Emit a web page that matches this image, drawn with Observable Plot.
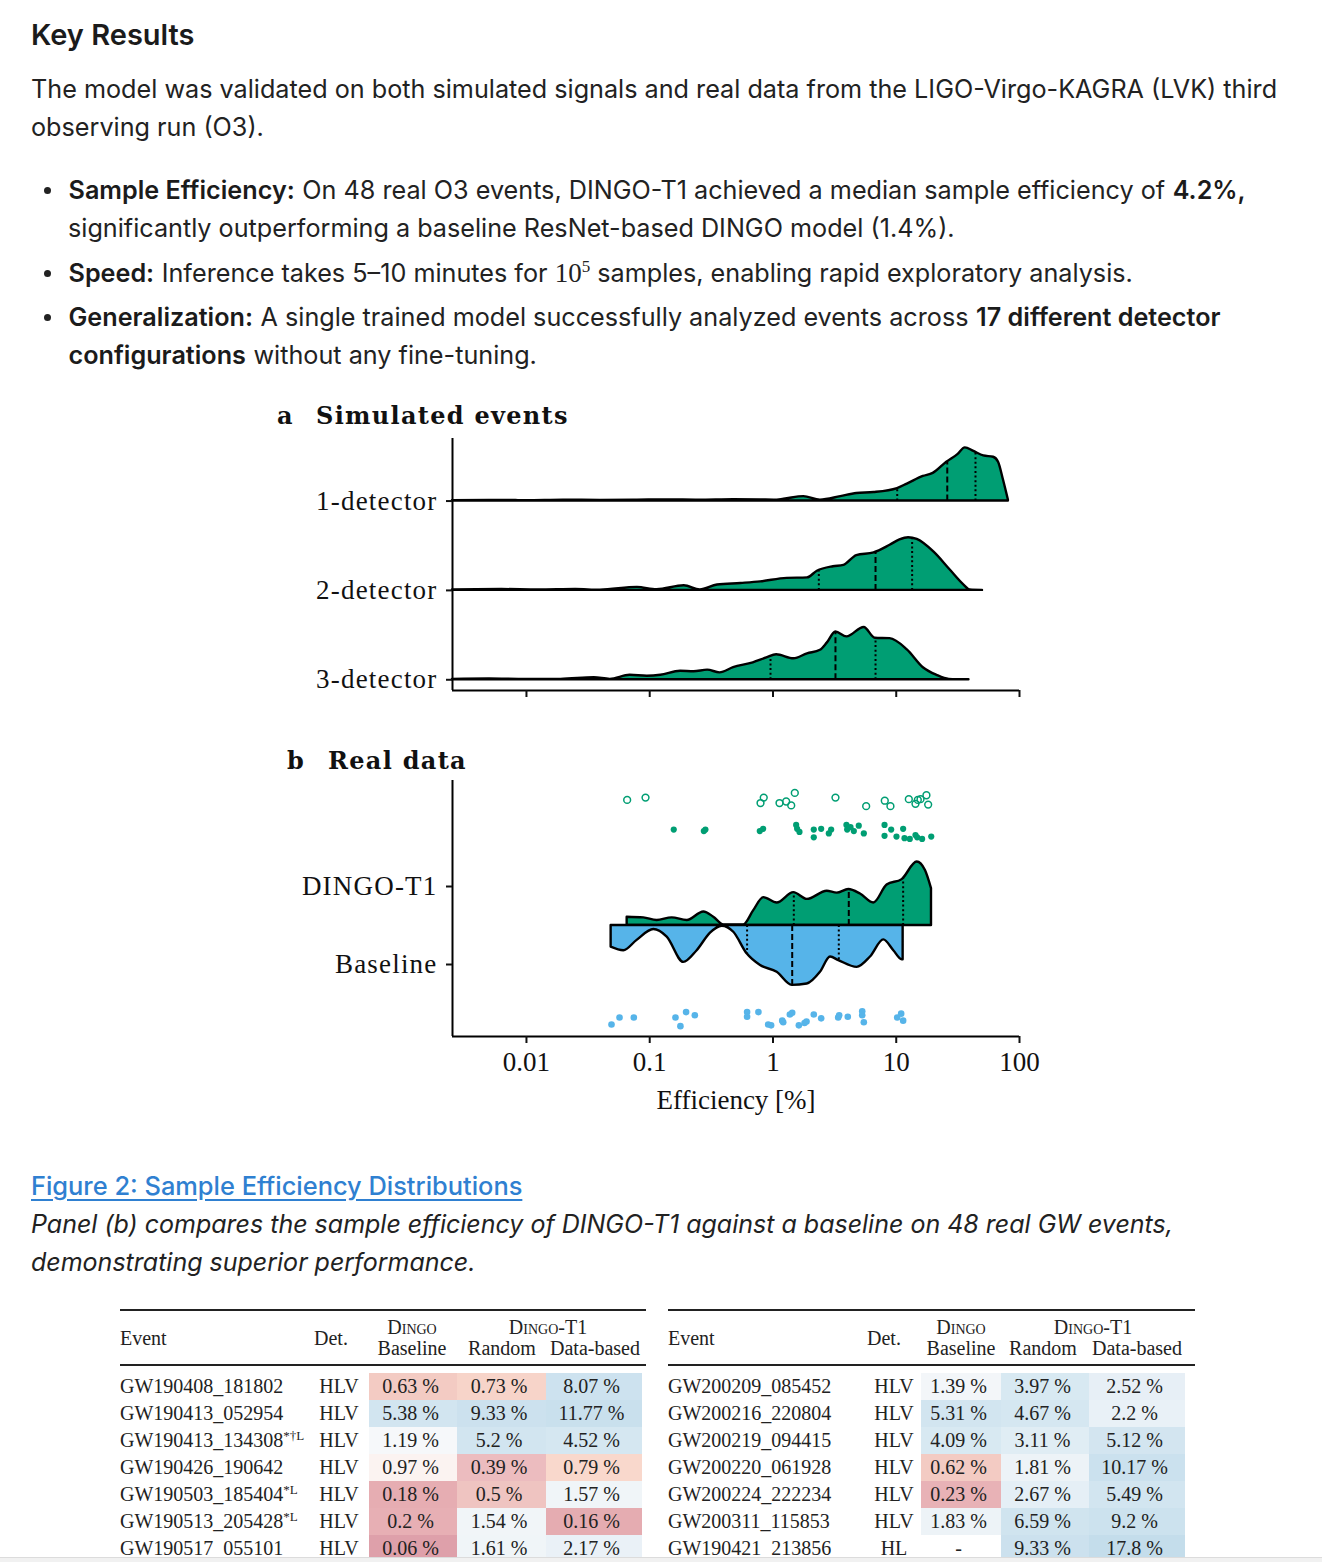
<!DOCTYPE html>
<html>
<head>
<meta charset="utf-8">
<script src="https://cdn.jsdelivr.net/npm/d3@7"></script>
<script src="https://cdn.jsdelivr.net/npm/@observablehq/plot@0.6"></script>
<style>
html, body { margin: 0; padding: 0; background: #fff; }
body { width: 1322px; height: 1562px; position: relative; overflow: hidden; font-family: Inter, "Noto Sans", sans-serif; color: #222; }
.abs { position: absolute; }
.h2 { left: 31px; top: 17px; font-size: 29px; font-weight: 600; line-height: 36px; color: #1b1b1b; }
.txt { font-size: 25.2px; line-height: 38px; }
.item { position: absolute; left: 68px; width: 1228px; font-size: 25.2px; line-height: 38px; }
.item::before { content: ""; position: absolute; left: -24px; top: 15.5px; width: 7px; height: 7px; border-radius: 50%; background: #222; }
b { font-weight: 600; color: #1b1b1b; margin: 0 0.5px; }
.math { font-family: "Liberation Serif", serif; font-size: 27px; }
.math sup { font-size: 17px; vertical-align: 10px; line-height: 0; }
.ptitle { font-family: "DejaVu Serif", serif; font-weight: bold; font-size: 24px; line-height: 32px; color: #111; letter-spacing: 1.3px; }
.link { left: 31px; top: 1167px; font-size: 25.4px; line-height: 38px; font-weight: 500; color: #2f80d1; text-decoration: underline; text-underline-offset: 4px; }
.cap { left: 31px; top: 1205px; width: 1200px; font-size: 25px; line-height: 38px; font-style: italic; color: #222; }
.tb { font-family: "Liberation Serif", serif; font-size: 20px; color: #222; white-space: nowrap; line-height: 24px; }
.tb sup { font-size: 13px; line-height: 0; vertical-align: 7px; }
.sc { font-variant: small-caps; }
#panelA g[aria-label="y-axis tick label"] text, #panelB g[aria-label="y-axis tick label"] text { letter-spacing: 1.2px; }
</style>
</head>
<body>
<div class="abs h2">Key Results</div>
<div class="abs txt" style="left:31px; top:70px; width:1268px;">The model was validated on both simulated signals and real data from the LIGO-Virgo-KAGRA (LVK) third observing run (O3).</div>
<div class="item" style="top:171px;"><b>Sample Efficiency:</b> On 48 real O3 events, DINGO-T1 achieved a median sample efficiency of <b>4.2%,</b> significantly outperforming a baseline ResNet-based DINGO model (1.4%).</div>
<div class="item" style="top:254px;"><b>Speed:</b> Inference takes 5–10 minutes for <span class="math">10<sup>5</sup></span> samples, enabling rapid exploratory analysis.</div>
<div class="item" style="top:298px;"><b>Generalization:</b> A single trained model successfully analyzed events across <b>17 different detector</b> <b>configurations</b> without any fine-tuning.</div>

<div class="abs ptitle" style="left:277px; top:400px;">a</div>
<div class="abs ptitle" style="left:316px; top:400px;">Simulated events</div>
<div class="abs" id="panelA" style="left:270px; top:432px; width:790px;"></div>

<div class="abs ptitle" style="left:287px; top:745px;">b</div>
<div class="abs ptitle" style="left:328px; top:745px;">Real data</div>
<div class="abs" id="panelB" style="left:270px; top:775px; width:790px;"></div>

<div class="abs link">Figure 2: Sample Efficiency Distributions</div>
<div class="abs cap">Panel (b) compares the sample efficiency of DINGO-T1 against a baseline on 48 real GW events, demonstrating superior performance.</div>

<div id="tables"></div>
<div class="abs" style="left:0; top:1557px; width:1322px; height:5px; background:#f1f1f1; border-top:1px solid #dcdcdc; z-index:5;"></div>

<script>
// ---------- Panel a: simulated events (log10 efficiency [%], density) ----------
const detectors = ["1-detector", "2-detector", "3-detector"];
const ridge1Det = [[-2.6,0.01],[-2.3,0.015],[-2.0,0.01],[-1.7,0.02],[-1.4,0.015],[-1.1,0.02],[-0.86,0.027],[-0.6,0.02],[-0.32,0.03],[-0.1,0.025],[0.01,0.02],[0.09,0.04],[0.25,0.10],[0.385,0.02],[0.55,0.10],[0.68,0.17],[0.82,0.19],[1.01,0.28],[1.09,0.38],[1.22,0.55],[1.30,0.62],[1.41,0.87],[1.50,1.04],[1.56,1.19],[1.63,1.11],[1.71,1.01],[1.79,0.98],[1.83,0.87],[1.87,0.47],[1.91,0.02]];
const ridge2Det = [[-2.6,0.01],[-2.2,0.02],[-1.9,0.01],[-1.6,0.02],[-1.4,0.005],[-1.10,0.067],[-0.94,0.015],[-0.72,0.105],[-0.59,0.01],[-0.45,0.12],[-0.26,0.155],[-0.10,0.19],[0.115,0.27],[0.28,0.28],[0.36,0.43],[0.49,0.53],[0.575,0.56],[0.68,0.78],[0.82,0.84],[0.95,1.01],[1.03,1.13],[1.10,1.18],[1.17,1.14],[1.305,0.86],[1.44,0.45],[1.55,0.12],[1.60,0.01],[1.70,0.0]];
const ridge3Det = [[-2.6,0.01],[-2.3,0.02],[-2.0,0.01],[-1.72,0.01],[-1.45,0.045],[-1.32,0.01],[-1.16,0.10],[-1.02,0.08],[-0.91,0.10],[-0.75,0.19],[-0.64,0.18],[-0.53,0.215],[-0.43,0.155],[-0.32,0.27],[-0.16,0.38],[-0.05,0.49],[0.03,0.56],[0.17,0.47],[0.28,0.58],[0.385,0.66],[0.44,0.82],[0.51,1.07],[0.60,0.96],[0.74,1.17],[0.83,0.93],[0.95,0.92],[1.09,0.67],[1.22,0.27],[1.33,0.10],[1.43,0.01],[1.59,0.0]];
const quart1Det = [1.008, 1.414, 1.643];
const quart2Det = [0.372, 0.832, 1.129];
const quart3Det = [-0.020, 0.507, 0.832];

// ---------- Panel b: real data ----------
const violinT1 = [[-1.183,0.185],[-1.048,0.17],[-0.94,0.11],[-0.818,0.17],[-0.696,0.11],[-0.561,0.30],[-0.48,0.185],[-0.399,0.015],[-0.237,0.015],[-0.156,0.33],[-0.075,0.62],[0.034,0.50],[0.169,0.73],[0.278,0.58],[0.44,0.76],[0.521,0.72],[0.615,0.80],[0.71,0.70],[0.818,0.50],[0.926,0.90],[1.048,1.02],[1.17,1.41],[1.237,1.22],[1.286,0.82]];
const violinBase = [[-1.313,0.48],[-1.21,0.56],[-1.102,0.33],[-0.967,0.09],[-0.858,0.26],[-0.724,0.82],[-0.615,0.56],[-0.507,0.17],[-0.412,0.015],[-0.318,0.15],[-0.21,0.63],[-0.101,0.89],[0.034,1.04],[0.156,1.33],[0.278,1.30],[0.385,1.04],[0.467,0.70],[0.534,0.78],[0.683,0.93],[0.791,0.70],[0.899,0.32],[0.98,0.56],[1.048,0.76],[1.056,0.76]];
const quartT1 = [0.169, 0.615, 1.056];
const quartBase = [-0.210, 0.156, 0.534];

const t1OpenLog = [-1.183,-1.034,-0.101,-0.075,0.053,0.107,0.148,0.177,0.507,0.756,0.907,0.953,1.102,1.156,1.175,1.197,1.245,1.259];
const t1OpenRow = [2.11,2.14,2.07,2.14,2.07,2.09,2.04,2.20,2.14,2.03,2.10,2.03,2.12,2.06,2.11,2.12,2.17,2.05];
const t1FilledLog = [-0.805,-0.561,-0.548,-0.107,-0.080,0.188,0.196,0.215,0.331,0.331,0.391,0.453,0.472,0.596,0.602,0.629,0.656,0.696,0.737,0.905,0.905,0.959,1.002,1.056,1.067,1.110,1.156,1.170,1.210,1.284];
const t1FilledRow = [1.73,1.71,1.73,1.71,1.74,1.79,1.74,1.70,1.73,1.63,1.74,1.68,1.73,1.79,1.73,1.76,1.71,1.78,1.68,1.79,1.65,1.73,1.64,1.74,1.62,1.61,1.66,1.63,1.61,1.64];
const baseLog = [-1.310,-1.245,-1.129,-0.791,-0.751,-0.705,-0.634,-0.210,-0.210,-0.118,-0.039,-0.015,0.075,0.083,0.137,0.156,0.210,0.256,0.272,0.331,0.391,0.529,0.537,0.607,0.724,0.724,0.737,1.008,1.040,1.056];
const baseRow = [-0.77,-0.68,-0.68,-0.68,-0.79,-0.61,-0.65,-0.61,-0.67,-0.61,-0.77,-0.78,-0.72,-0.74,-0.64,-0.62,-0.78,-0.75,-0.73,-0.64,-0.69,-0.68,-0.65,-0.67,-0.60,-0.65,-0.74,-0.68,-0.63,-0.72];
const xTicks = [0.01, 0.1, 1, 10, 100];
const methods = ["DINGO-T1", "Baseline"];

// ---------- Table ----------
const leftEvents = ["GW190408_181802","GW190413_052954","GW190413_134308","GW190426_190642","GW190503_185404","GW190513_205428","GW190517_055101"];
const leftNotes = ["","","*†L","","*L","*L",""];
const leftDet = ["HLV","HLV","HLV","HLV","HLV","HLV","HLV"];
const leftBaseline = [0.63, 5.38, 1.19, 0.97, 0.18, 0.2, 0.06];
const leftRandom = [0.73, 9.33, 5.2, 0.39, 0.5, 1.54, 1.61];
const leftData = [8.07, 11.77, 4.52, 0.79, 1.57, 0.16, 2.17];
const rightEvents = ["GW200209_085452","GW200216_220804","GW200219_094415","GW200220_061928","GW200224_222234","GW200311_115853","GW190421_213856"];
const rightNotes = ["","","","","","",""];
const rightDet = ["HLV","HLV","HLV","HLV","HLV","HLV","HL"];
const rightBaseline = [1.39, 5.31, 4.09, 0.62, 0.23, 1.83, null];
const rightRandom = [3.97, 4.67, 3.11, 1.81, 2.67, 6.59, 9.33];
const rightData = [2.52, 2.2, 5.12, 10.17, 5.49, 9.2, 17.8];

// ---------- styling ----------
const GREEN = "#009e73", BLUE = "#56b4e9";
const X0 = 10 ** -2.6;
const serif = "'Liberation Serif', 'DejaVu Serif', serif";
const DASH = "6,3", DOT = "2,2.6";

function interp(arr, l) {
  for (let i = 1; i < arr.length; i++) {
    if (l <= arr[i][0]) {
      const [a0, d0] = arr[i - 1], [a1, d1] = arr[i];
      return d0 + (d1 - d0) * (l - a0) / (a1 - a0);
    }
  }
  return arr[arr.length - 1][1];
}
const toRows = arr => arr.map(([l, d]) => ({eff: 10 ** l, d}));
function quartRules(quart, arr, base, sign, scale) {
  const q = quart.map((l, k) => ({eff: 10 ** l, h: interp(arr, l), k}));
  const opts = dash => ({x: "eff", y1: base, y2: r => base + sign * r.h * scale, stroke: "#000", strokeWidth: 2, strokeDasharray: dash});
  return [
    Plot.ruleX(q.filter(r => r.k !== 1), opts(DOT)),
    Plot.ruleX(q.filter(r => r.k === 1), opts(DASH))
  ];
}

// Panel a
const ridgeData = [ridge1Det, ridge2Det, ridge3Det];
const ridgeQuart = [quart1Det, quart2Det, quart3Det];
const RS = 0.5; // density -> row units
const marksA = [];
ridgeData.forEach((arr, i) => {
  const base = 2 - i;
  marksA.push(Plot.areaY(toRows(arr), {x: "eff", y1: base, y2: r => base + r.d * RS, fill: GREEN, stroke: "#000", strokeWidth: 2.4, strokeLinejoin: "round", curve: "monotone-x"}));
  marksA.push(...quartRules(ridgeQuart[i], arr, base, 1, RS));
});
marksA.push(
  Plot.ruleX([X0], {stroke: "#000", strokeWidth: 2}),
  Plot.ruleY([-0.12], {stroke: "#000", strokeWidth: 2}),
  Plot.axisX({ticks: xTicks, tickFormat: () => "", tickSize: 7, strokeWidth: 2, label: null}),
  Plot.axisY({ticks: [2, 1, 0], tickFormat: t => detectors[2 - t], tickSize: 6, tickPadding: 9, strokeWidth: 2, label: null, fontSize: 27})
);
const panelA = Plot.plot({
  width: 790, height: 273, marginLeft: 182, marginRight: 41, marginTop: 6, marginBottom: 15,
  style: {fontFamily: serif, fontSize: "27px", color: "#111", background: "transparent", overflow: "visible"},
  x: {type: "log", domain: [X0, 100]},
  y: {domain: [-0.12, 2.7]},
  marks: marksA
});
document.getElementById("panelA").appendChild(panelA);

// Panel b
const VS = 45 / 78;
const openPts = t1OpenLog.map((l, i) => ({eff: 10 ** l, row: t1OpenRow[i]}));
const filledPts = t1FilledLog.map((l, i) => ({eff: 10 ** l, row: t1FilledRow[i]}));
const basePts = baseLog.map((l, i) => ({eff: 10 ** l, row: baseRow[i]}));
const panelB = Plot.plot({
  width: 790, height: 343, marginLeft: 182, marginRight: 41, marginTop: 5, marginBottom: 82,
  style: {fontFamily: serif, fontSize: "27px", color: "#111", background: "transparent", overflow: "visible"},
  x: {type: "log", domain: [X0, 100]},
  y: {domain: [-0.923, 2.359]},
  marks: [
    Plot.areaY(toRows(violinT1), {x: "eff", y1: 0.5, y2: r => 0.5 + r.d * VS, fill: GREEN, stroke: "#000", strokeWidth: 2.4, strokeLinejoin: "round", curve: "monotone-x"}),
    Plot.areaY(toRows(violinBase), {x: "eff", y1: 0.5, y2: r => 0.5 - r.d * VS, fill: BLUE, stroke: "#000", strokeWidth: 2.4, strokeLinejoin: "round", curve: "monotone-x"}),
    ...quartRules(quartT1, violinT1, 0.5, 1, VS),
    ...quartRules(quartBase, violinBase, 0.5, -1, VS),
    Plot.dot(openPts, {x: "eff", y: "row", r: 3.4, stroke: GREEN, strokeWidth: 1.5, fill: "none"}),
    Plot.dot(filledPts, {x: "eff", y: "row", r: 3.1, fill: GREEN, stroke: "none"}),
    Plot.dot(basePts, {x: "eff", y: "row", r: 3.3, fill: BLUE, stroke: "none"}),
    Plot.ruleX([X0], {stroke: "#000", strokeWidth: 2}),
    Plot.ruleY([-0.923], {stroke: "#000", strokeWidth: 2}),
    Plot.axisX({ticks: xTicks, tickFormat: d => String(d), tickSize: 7, tickPadding: 8, strokeWidth: 2, fontSize: 27, label: "Efficiency [%]", labelAnchor: "center", labelOffset: 72, labelArrow: false}),
    Plot.axisY({ticks: [1, 0], tickFormat: t => methods[1 - t], tickSize: 6, tickPadding: 9, strokeWidth: 2, label: null, fontSize: 27})
  ]
});
document.getElementById("panelB").appendChild(panelB);

// ---------- Table (cell colours from a Plot colour scale) ----------
const cellColor = Plot.scale({color: {
  type: "log",
  domain: [0.06, 0.18, 0.4, 0.63, 0.8, 0.97, 1.2, 1.6, 2.6, 4, 5.3, 10, 18],
  range: ["#dea0aa", "#e6adb2", "#ecbdbf", "#f3cbc3", "#f9d9cc", "#fbf3f1", "#f6f8fa", "#f0f5f8", "#e6eff6", "#d8e9f2", "#d2e5f0", "#cbe1ee", "#c4ddeb"]
}});

const host = document.getElementById("tables");
function el(html, css) {
  const d = document.createElement("div");
  d.className = "abs tb";
  d.innerHTML = html;
  Object.assign(d.style, css);
  host.appendChild(d);
  return d;
}
function centerText(html, cx, cy, extra = {}) {
  return el(html, Object.assign({left: (cx - 100) + "px", width: "200px", textAlign: "center", top: (cy - 12) + "px"}, extra));
}
function buildTable(t) {
  el("", {left: t.x0 + "px", top: "1309px", width: t.w + "px", height: "1.6px", background: "#222"});
  el("", {left: t.x0 + "px", top: "1364px", width: t.w + "px", height: "1.6px", background: "#222"});
  el("Event", {left: t.x0 + "px", top: (1338 - 12) + "px"});
  centerText("Det.", t.detHead, 1338);
  centerText('<span class="sc">Dingo</span>', t.h1, 1327);
  centerText("Baseline", t.h1, 1348);
  centerText('<span class="sc">Dingo</span>-T1', t.h2, 1327);
  centerText("Random", t.h3, 1348);
  centerText("Data-based", t.h4, 1348);
  t.events.forEach((ev, i) => {
    const cy = 1386 + 27 * i;
    el(ev + (t.notes[i] ? "<sup>" + t.notes[i] + "</sup>" : ""), {left: t.x0 + "px", top: (cy - 12) + "px"});
    centerText(t.det[i], t.detCenter, cy);
    [t.baseline, t.random, t.data].forEach((col, c) => {
      const v = col[i];
      const [cx0, cw] = t.cells[c];
      el("", {left: cx0 + "px", top: (cy - 13.5) + "px", width: cw + "px", height: "27px", background: v == null ? "transparent" : cellColor.apply(v)});
      centerText(v == null ? "-" : v + " %", cx0 + cw / 2 - 2.5, cy);
    });
  });
}
buildTable({x0: 120, w: 526, detHead: 331, detCenter: 339, h1: 412, h2: 548, h3: 502, h4: 595,
  cells: [[369, 88], [457, 89], [546, 96]],
  events: leftEvents, notes: leftNotes, det: leftDet, baseline: leftBaseline, random: leftRandom, data: leftData});
buildTable({x0: 668, w: 527, detHead: 884, detCenter: 894, h1: 961, h2: 1093, h3: 1043, h4: 1137,
  cells: [[921, 80], [1001, 88], [1089, 96]],
  events: rightEvents, notes: rightNotes, det: rightDet, baseline: rightBaseline, random: rightRandom, data: rightData});
</script>
</body>
</html>
